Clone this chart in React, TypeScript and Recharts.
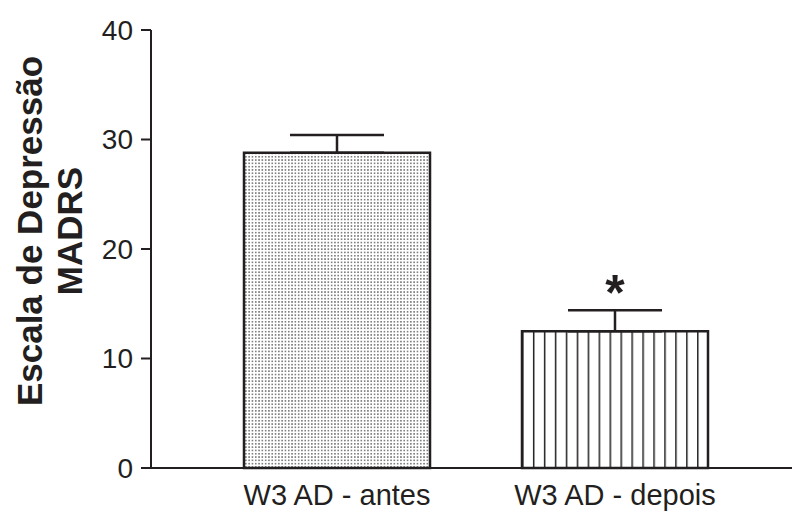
import { Bar, BarChart, Cell, ErrorBar, LabelList, XAxis, YAxis } from 'recharts'

const GROUPS = ['W3 AD - antes', 'W3 AD - depois']
const MEANS = [28.8, 12.5]
const SEMS = [1.6, 1.9]
const MARKS = ['', '*']
const Y_TICKS = [0, 10, 20, 30, 40]

const INK = '#231f20'
const FONT = '"Liberation Sans", Arial, sans-serif'
const FILLS = ['url(#stipple)', 'url(#vlines)']

const data = GROUPS.map((name, i) => ({
  name,
  mean: MEANS[i],
  err: [0, SEMS[i]],
  mark: MARKS[i],
}))

function YTitle({ viewBox }: any) {
  const cy = viewBox.y + viewBox.height / 2 - 18
  return (
    <text
      transform={`translate(42,${cy}) rotate(-90)`}
      textAnchor="middle"
      fontFamily={FONT}
      fontWeight={700}
      fontSize={35}
      fill={INK}
    >
      <tspan x={0} y={0}>Escala de Depressão</tspan>
      <tspan x={0} y={40}>MADRS</tspan>
    </text>
  )
}

function Star({ x, y, width, value }: any) {
  if (!value) return null
  return (
    <text x={x + width / 2} y={y - 21} textAnchor="middle" fontFamily={FONT} fontWeight={700} fontSize={50} fill={INK}>
      {value}
    </text>
  )
}

export default function App() {
  return (
    <div style={{ position: 'absolute', left: 0, top: 0, width: 792, height: 511, background: '#fff' }}>
      <BarChart width={792} height={511} data={data} margin={{ top: 30, right: 0, left: 0, bottom: 0 }}>
        <defs>
          <pattern id="stipple" width={3.3} height={3.3} patternUnits="userSpaceOnUse">
            <rect width={3.3} height={3.3} fill="#fff" />
            <rect x={0.9} y={0.9} width={1.5} height={1.5} fill="#666" />
          </pattern>
          <pattern id="vlines" width={1 / 17} height={1} patternUnits="objectBoundingBox">
            <rect width={20} height={1000} fill="#fff" />
            <line x1={0} y1={0} x2={0} y2={1000} stroke={INK} strokeWidth={3} />
          </pattern>
        </defs>
        <XAxis
          dataKey="name"
          height={43}
          padding={{ left: 47, right: 38 }}
          tickLine={false}
          tickSize={10}
          tickMargin={6}
          axisLine={{ stroke: INK, strokeWidth: 2 }}
          tick={{ fill: INK, fontSize: 29, fontFamily: FONT }}
        />
        <YAxis
          width={151}
          domain={[0, 40]}
          ticks={Y_TICKS}
          tickSize={10}
          tickMargin={8}
          axisLine={{ stroke: INK, strokeWidth: 2 }}
          tickLine={{ stroke: INK, strokeWidth: 2 }}
          tick={{ fill: INK, fontSize: 28, fontFamily: FONT }}
          label={<YTitle />}
        />
        <Bar dataKey="mean" barSize={186} stroke={INK} strokeWidth={2.5} isAnimationActive={false}>
          {data.map((d, i) => (
            <Cell key={d.name} fill={FILLS[i]} />
          ))}
          <ErrorBar dataKey="err" direction="y" width={47} stroke={INK} strokeWidth={2.5} />
          <LabelList dataKey="mark" content={<Star />} />
        </Bar>
      </BarChart>
    </div>
  )
}
